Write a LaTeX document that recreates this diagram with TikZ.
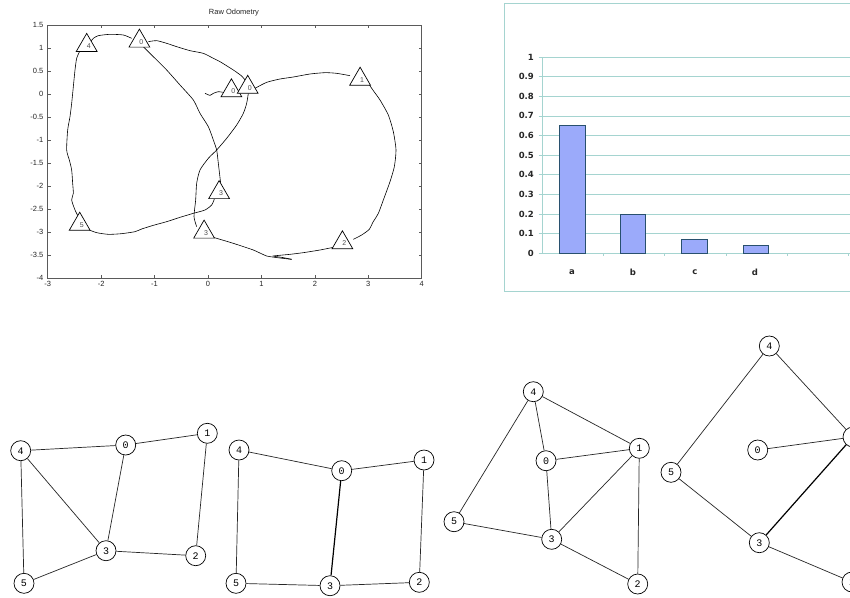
\documentclass[tikz,border=0pt]{standalone}
\usepackage{fontspec}
\setmainfont{Liberation Sans}
\newfontfamily\monofont{Liberation Mono}
\newfontfamily\chartfont{DejaVu Sans}
\usetikzlibrary{shapes.geometric}
\definecolor{gridc}{RGB}{165,212,208}
\definecolor{barblue}{RGB}{155,170,250}
\definecolor{bardraw}{RGB}{40,80,110}
\definecolor{framec}{RGB}{90,90,90}
\tikzset{
  tri/.style={draw, fill=white, regular polygon, regular polygon sides=3, minimum size=24pt, inner sep=0pt, line width=0.7pt},
  trilab/.style={font=\fontsize{7}{7}\selectfont, text=black!70, inner sep=0pt, xshift=2pt, yshift=-0.5pt},
  trajline/.style={line width=0.6pt, black},
  ticklab/.style={font=\fontsize{7.5}{8}\selectfont, inner sep=1pt, text=black!85},
  chartlab/.style={font=\chartfont\bfseries\fontsize{8.5}{9}\selectfont, inner sep=1pt, text=black!85},
  bar/.style={fill=barblue, draw=bardraw, line width=0.8pt},
  vtx/.style={circle, draw, fill=white, minimum size=20pt, inner sep=0pt, line width=0.7pt, font=\monofont\fontsize{10}{10}\selectfont},
  ed/.style={line width=0.7pt, black!85},
  edthick/.style={line width=1.2pt, black}
}
\begin{document}
\begin{tikzpicture}[x=1pt,y=-1pt]
\clip (0,0) rectangle (850,597);
\fill[white] (0,0) rectangle (850,597);

% ---------------- Raw odometry plot ----------------
\node[font=\fontsize{7.5}{8}\selectfont, text=black!85] (title) at (234,13) {Raw Odometry};
\draw[framec, line width=0.9pt] (47.7,25) rectangle (421.7,278.3);
\foreach \v [count=\i] in {-3,-2,-1,0,1,2,3,4}{
  \pgfmathsetmacro{\X}{208+53.43*\v}
  \draw[framec, line width=0.5pt] (\X,278.3) -- ++(0,-3);
  \draw[framec, line width=0.5pt] (\X,25) -- ++(0,3);
  \node[ticklab, anchor=north] (xt\i) at (\X,280.5) {\v};
}
\foreach \v [count=\i] in {1.5,1,0.5,0,-0.5,-1,-1.5,-2,-2.5,-3,-3.5,-4}{
  \pgfmathsetmacro{\Y}{94.1-46.06*\v}
  \draw[framec, line width=0.5pt] (47.7,\Y) -- ++(3,0);
  \draw[framec, line width=0.5pt] (421.7,\Y) -- ++(-3,0);
  \node[ticklab, anchor=east] (yt\i) at (44.5,\Y) {\v};
}

\begin{scope}[scale=1/3]
 \draw[trajline] plot[smooth, tension=0.4] coordinates {(615,280) (630,286) (640,280) (655,275) (668,277)};
 \draw[trajline] plot[smooth, tension=0.4] coordinates {(765,265) (800,247) (840,237) (880,231) (930,222) (975,218) (1010,220) (1050,227)};
 \draw[trajline] plot[smooth, tension=0.4] coordinates {(1105,250) (1120,272) (1140,300) (1165,345) (1180,395) (1188,450) (1183,500) (1170,545) (1150,600) (1135,640) (1118,668) (1108,688) (1085,705) (1060,718)};
 \draw[trajline] plot[smooth, tension=0.3] coordinates {(1000,742) (960,750) (910,758) (870,763) (820,768) (845,772) (875,778)};
 \draw[trajline] plot[smooth, tension=0.3] coordinates {(640,712) (700,730) (760,750) (800,768) (840,774) (875,778)};
 \draw[trajline] plot[smooth, tension=0.4] coordinates {(590,680) (582,650) (587,600) (590,550) (600,510) (625,475) (650,450) (680,415) (710,375) (730,340) (740,310) (745,280)};
 \draw[trajline] plot[smooth, tension=0.4] coordinates {(735,240) (725,228) (700,210) (660,185) (640,175) (610,160) (570,152) (530,140) (500,130) (470,122) (445,125)};
 \draw[trajline] plot[smooth, tension=0.4] coordinates {(395,115) (370,105) (330,103) (295,107) (280,115) (272,125)};
 \draw[trajline] plot[smooth, tension=0.4] coordinates {(240,152) (230,175) (225,210) (220,260) (215,310) (210,350) (203,390) (200,450) (208,480) (215,510) (218,550) (220,580) (215,600) (225,630) (235,650)};
 \draw[trajline] plot[smooth, tension=0.4] coordinates {(268,690) (290,698) (325,703) (365,701) (405,695) (425,687) (460,676) (500,665) (540,652) (580,640) (615,630) (635,615) (643,597)};
 \draw[trajline] plot[smooth, tension=0.4] coordinates {(430,140) (460,170) (500,210) (540,255) (580,300) (600,340) (625,380) (640,420) (650,450) (655,490) (662,550)};
\end{scope}

\node[tri, label={[trilab]center:0}] (t0a) at (231.4,90.8) {};
\node[tri, label={[trilab]center:0}] (t0b) at (247.7,87.3) {};
\node[tri, label={[trilab]center:1}] (t1) at (360.1,79.2) {};
\node[tri, label={[trilab]center:2}] (t2) at (342.4,242.8) {};
\node[tri, label={[trilab]center:3}] (t3a) at (219.1,192.6) {};
\node[tri, label={[trilab]center:3}] (t3b) at (204.1,232.1) {};
\node[tri, label={[trilab]center:5}] (t5) at (79.7,224.2) {};
\node[tri, label={[trilab]center:4}] (t4) at (86.7,45.4) {};
\node[tri, label={[trilab]center:0}] (t0c) at (139.4,41.1) {};

% ---------------- Bar chart ----------------
\draw[gridc, line width=0.8pt] (504,3) rectangle (870,291);
\foreach \v/\t [count=\i] in {0/0,1/0.1,2/0.2,3/0.3,4/0.4,5/0.5,6/0.6,7/0.7,8/0.8,9/0.9,10/1}{
  \pgfmathsetmacro{\Y}{253.3-19.63*\v}
  \draw[gridc, line width=0.6pt] (538.5,\Y) -- (852,\Y);
  \node[chartlab, anchor=east] (cy\i) at (535,\Y) {\t};
}
\draw[gridc, line width=0.8pt] (542,57) -- (542,253.3);
\foreach \x in {603,664.5,726,787,848}{
  \draw[gridc, line width=0.6pt] (\x,253.3) -- ++(0,3);
}
\draw[bar] (559,253.3) rectangle (585,125.7);
\draw[bar] (620,253.3) rectangle (645,214);
\draw[bar] (681,253.3) rectangle (707,239.3);
\draw[bar] (743,253.3) rectangle (768,245.4);
\node[chartlab] (la) at (572,272) {a};
\node[chartlab] (lb) at (633,272) {b};
\node[chartlab] (lc) at (695,272) {c};
\node[chartlab] (ld) at (755,272) {d};

% ---------------- Graph 1 ----------------
\node[vtx] (a4) at (20.7,450.7) {4};
\node[vtx] (a0) at (125.7,445) {0};
\node[vtx] (a1) at (207.3,433.3) {1};
\node[vtx] (a3) at (106,550.7) {3};
\node[vtx] (a2) at (195.7,555.7) {2};
\node[vtx] (a5) at (24,583.3) {5};
\draw[ed] (a4) -- (a0);
\draw[ed] (a0) -- (a1);
\draw[ed] (a4) -- (a3);
\draw[ed] (a0) -- (a3);
\draw[ed] (a4) -- (a5);
\draw[ed] (a1) -- (a2);
\draw[ed] (a3) -- (a2);
\draw[ed] (a5) -- (a3);

% ---------------- Graph 2 ----------------
\node[vtx] (b4) at (239,450) {4};
\node[vtx] (b0) at (341.7,470.7) {0};
\node[vtx] (b1) at (424,460) {1};
\node[vtx] (b5) at (236,583.3) {5};
\node[vtx] (b3) at (330,585.7) {3};
\node[vtx] (b2) at (419.3,582.3) {2};
\draw[ed] (b4) -- (b0);
\draw[ed] (b0) -- (b1);
\draw[ed] (b4) -- (b5);
\draw[edthick] (b0) -- (b3);
\draw[ed] (b1) -- (b2);
\draw[ed] (b5) -- (b3);
\draw[ed] (b3) -- (b2);

% ---------------- Graph 3 ----------------
\node[vtx] (c4) at (533.3,391.7) {4};
\node[vtx] (c0) at (546,460.7) {0};
\node[vtx] (c1) at (639.3,448.3) {1};
\node[vtx] (c5) at (454,521.7) {5};
\node[vtx] (c3) at (551.7,539.3) {3};
\node[vtx] (c2) at (637.7,584) {2};
\draw[ed] (c4) -- (c1);
\draw[ed] (c4) -- (c0);
\draw[ed] (c4) -- (c5);
\draw[ed] (c0) -- (c1);
\draw[ed] (c0) -- (c3);
\draw[ed] (c1) -- (c3);
\draw[ed] (c1) -- (c2);
\draw[ed] (c5) -- (c3);
\draw[ed] (c3) -- (c2);

% ---------------- Graph 4 ----------------
\node[vtx] (d4) at (769.3,346) {4};
\node[vtx] (d0) at (757.7,450) {0};
\node[vtx] (d1) at (853,437) {1};
\node[vtx] (d5) at (671,472.3) {5};
\node[vtx] (d3) at (759.3,542.7) {3};
\node[vtx] (d2) at (852,582) {2};
\draw[ed] (d4) -- (d5);
\draw[ed] (d4) -- (d1);
\draw[ed] (d0) -- (d1);
\draw[ed] (d5) -- (d3);
\draw[edthick] (d3) -- (d1);
\draw[ed] (d3) -- (d2);
\end{tikzpicture}
\end{document}
